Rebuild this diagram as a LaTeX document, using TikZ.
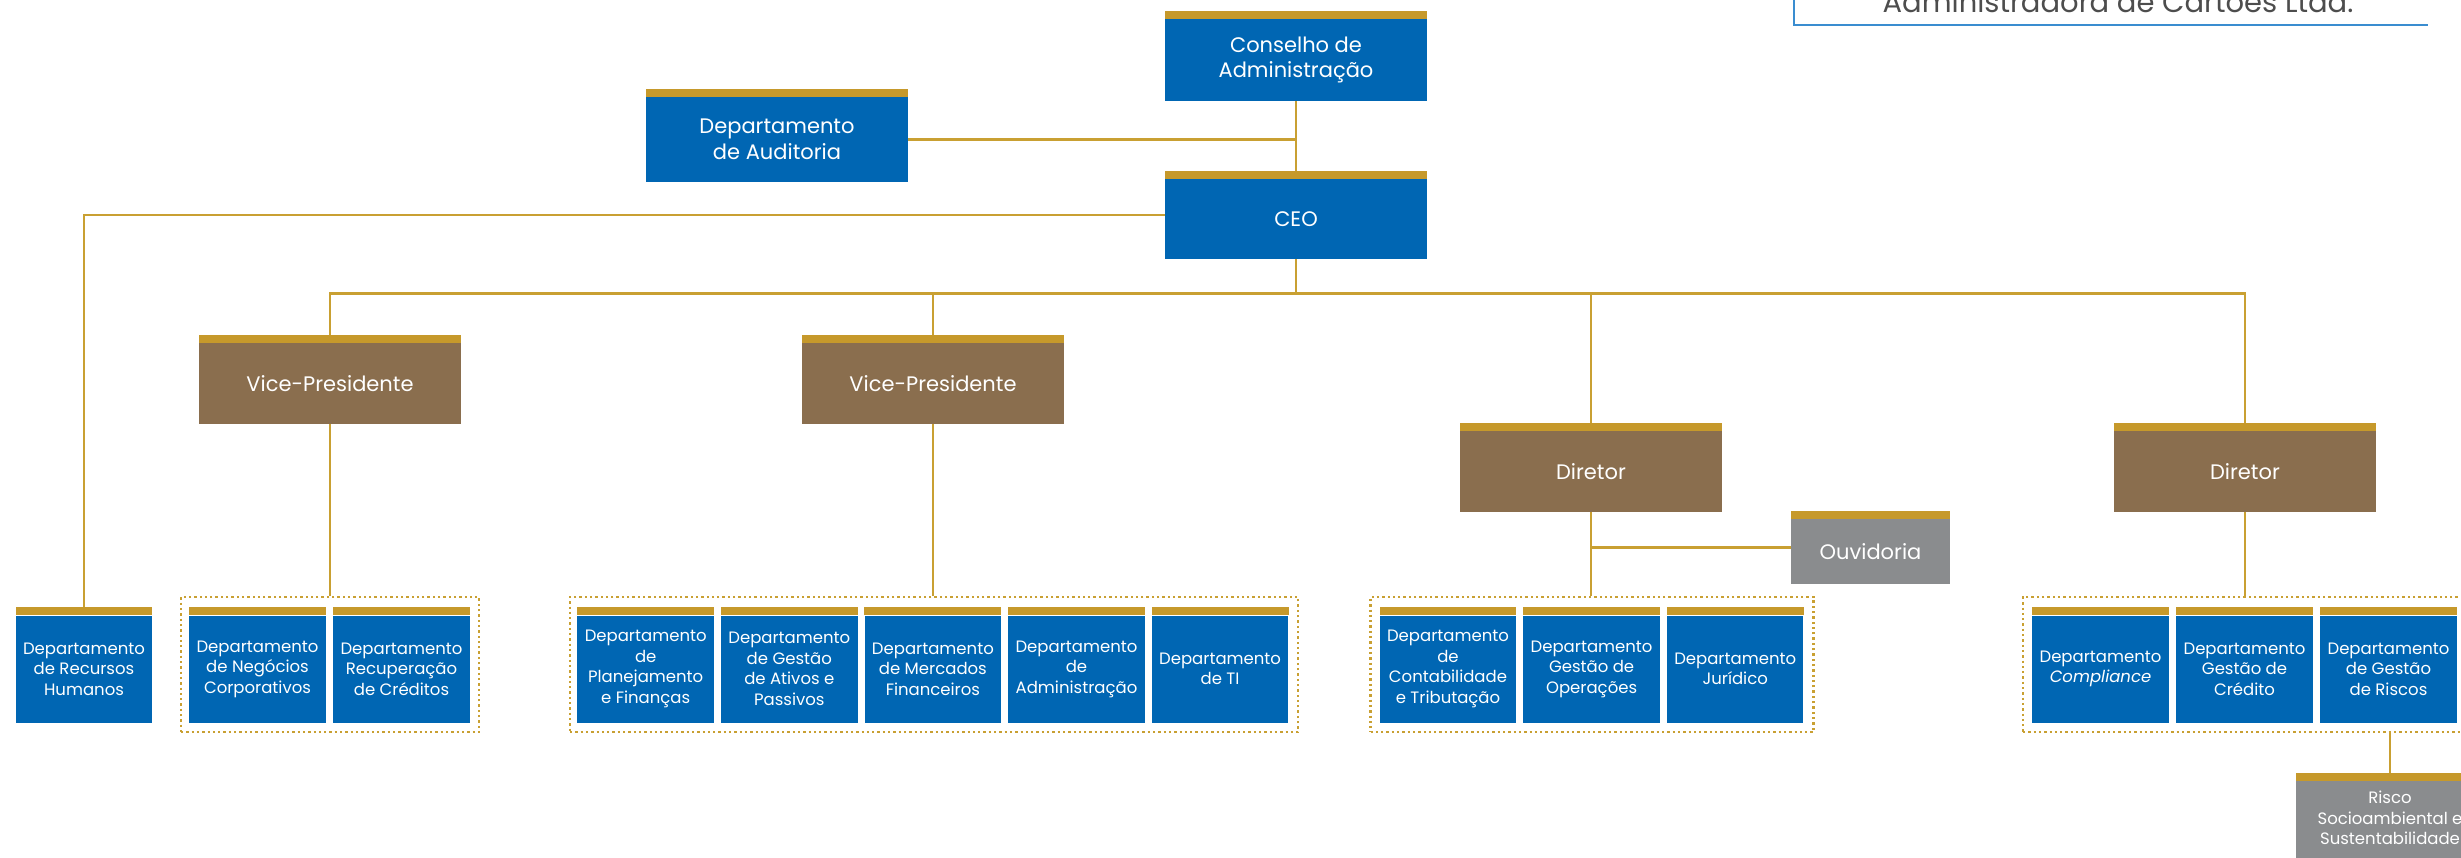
\documentclass[tikz,border=0pt]{standalone}
\usepackage{fontspec}
\setmainfont{Poppins}
\definecolor{cblue}{HTML}{0066B3}
\definecolor{cgold}{HTML}{C6992B}
\definecolor{lgold}{HTML}{C9A032}
\definecolor{cbrown}{HTML}{8A6E4E}
\definecolor{cgrey}{HTML}{8A8C8E}
\definecolor{tborder}{HTML}{3A8DD0}
\definecolor{ttext}{HTML}{4D4D4D}
\begin{document}
\begin{tikzpicture}[x=1pt,y=-1pt,
  box/.style={inner sep=0pt, align=center, text=white},
  bigbox/.style={box, minimum width=262pt, font=\fontsize{21}{25.5}\selectfont},
  bluebig/.style={bigbox, fill=cblue},
  brownbig/.style={bigbox, fill=cbrown, minimum height=81pt},
  deptbox/.style={box, fill=cblue, minimum width=136.5pt, minimum height=107pt, font=\fontsize{16.5}{20.6}\selectfont},
  greybox/.style={box, fill=cgrey},
  group/.style={draw=lgold, line width=2.3pt, dash pattern=on 2.3pt off 3pt, inner sep=0pt},
  conn/.style={draw=lgold, line width=2.8pt},
]
\useasboundingbox (0,0) rectangle (2461,858);
\clip (0,0) rectangle (2461,858);

% title box (clipped at top)
\draw[tborder, line width=2pt] (1794,-5) -- (1794,25) -- (2428,25);
\node[anchor=base, text=ttext, inner sep=0pt, font=\fontsize{29}{32}\selectfont] (title) at (2118,12.7) {Administradora de Cartões Ltda.};

% top level
\node[bluebig, minimum height=82pt] (cons) at (1296,60) {Conselho de\\Administração};
\node[bluebig, minimum height=80pt] (ceo) at (1296,219) {CEO};
\node[bluebig, minimum height=85pt] (aud) at (777,139.5) {Departamento\\de Auditoria};

% vice presidents and directors
\node[brownbig] (vp1) at (330,383.5) {Vice-Presidente};
\node[brownbig] (vp2) at (933,383.5) {Vice-Presidente};
\node[brownbig] (dir1) at (1591,471.5) {Diretor};
\node[brownbig] (dir2) at (2245,471.5) {Diretor};
\node[greybox, minimum width=159pt, minimum height=65pt, font=\fontsize{21}{25.5}\selectfont] (ouv) at (1870.5,551.5) {Ouvidoria};

% groups
\node[group, minimum width=298pt, minimum height=135pt] (g1) at (330,664.5) {};
\node[group, minimum width=728pt, minimum height=135pt] (g2) at (934,664.5) {};
\node[group, minimum width=443pt, minimum height=135pt] (g3) at (1592,664.5) {};
\node[group, minimum width=444pt, minimum height=135pt] (g4) at (2245,664.5) {};

% departments
\node[deptbox] (rh) at (84,669) {Departamento\\de Recursos\\Humanos};
\node[deptbox] (neg) at (257.5,669) {Departamento\\de Negócios\\Corporativos};
\node[deptbox] (rec) at (401.5,669) {Departamento\\Recuperação\\de Créditos};
\node[deptbox] (plan) at (645.7,669) {Departamento\\de\\Planejamento\\e Finanças};
\node[deptbox] (ativ) at (789.3,669) {Departamento\\de Gestão\\de Ativos e\\Passivos};
\node[deptbox] (merc) at (932.9,669) {Departamento\\de Mercados\\Financeiros};
\node[deptbox] (adm) at (1076.5,669) {Departamento\\de\\Administração};
\node[deptbox] (ti) at (1220.1,669) {Departamento\\de TI};
\node[deptbox] (cont) at (1448,669) {Departamento\\de\\Contabilidade\\e Tributação};
\node[deptbox] (oper) at (1591.6,669) {Departamento\\Gestão de\\Operações};
\node[deptbox] (jur) at (1735.2,669) {Departamento\\Jurídico};
\node[deptbox] (comp) at (2100.5,669) {Departamento\\\textit{Compliance}};
\node[deptbox] (cred) at (2244.5,669) {Departamento\\Gestão de\\Crédito};
\node[deptbox] (risc) at (2388.5,669) {Departamento\\de Gestão\\de Riscos};

\node[greybox, minimum width=188pt, minimum height=74pt, font=\fontsize{16.5}{20.6}\selectfont] (socio) at (2390,818) {Risco\\Socioambiental e\\Sustentabilidade};
\fill[cgrey] (socio.south west) rectangle ([yshift=-20pt]socio.south east);

% gold bars
\foreach \n in {cons,ceo,aud,vp1,vp2,dir1,dir2,ouv,rh,neg,rec,plan,ativ,merc,adm,ti,cont,oper,jur,comp,cred,risc,socio}
  \fill[cgold] (\n.north west) rectangle ([yshift=8pt]\n.north east);

% connectors
\coordinate (bus) at (1296,293.5);
\draw[conn] (cons.south) -- ([yshift=8pt]ceo.north);
\draw[conn] (aud.east) -- (aud.east -| cons.south);
\draw[conn] ([yshift=4pt]ceo.west) -| ([yshift=8pt]rh.north);
\draw[conn] (ceo.south) -- (bus);
\draw[conn] ([yshift=8pt]vp1.north) |- (bus) -| ([yshift=8pt]dir2.north);
\draw[conn] ([yshift=8pt]vp2.north) -- (vp2.north |- bus);
\draw[conn] ([yshift=8pt]dir1.north) -- (dir1.north |- bus);
\draw[conn] (vp1.south) -- (vp1.south |- g1.north);
\draw[conn] (vp2.south) -- (vp2.south |- g2.north);
\draw[conn] (dir1.south) -- (dir1.south |- g3.north);
\draw[conn] (dir2.south) -- (dir2.south |- g4.north);
\draw[conn] (dir1.south |- ouv.west) ++(0,-4) -- ([yshift=4pt]ouv.west);
\draw[conn] (g4.south -| socio.north) -- ([yshift=8pt]socio.north);
\end{tikzpicture}
\end{document}
